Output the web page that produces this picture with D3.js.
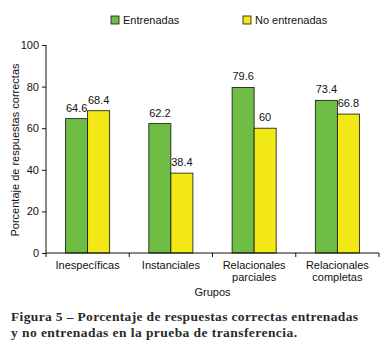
<!DOCTYPE html>
<html>
<head>
<meta charset="utf-8">
<script src="https://cdn.jsdelivr.net/npm/d3@7"></script>
<style>
  body { margin: 0; background: #fff; }
  svg { display: block; }
</style>
</head>
<body>
<div id="chart"></div>
<script>
// categories and series
var grupos = ["Inespecíficas", "Instanciales", "Relacionales parciales", "Relacionales completas"];
var grupoLines = [["Inespecíficas"], ["Instanciales"], ["Relacionales", "parciales"], ["Relacionales", "completas"]];
var series = ["Entrenadas", "No entrenadas"];
var entrenadas = [64.6, 62.2, 79.6, 73.4];
var noEntrenadas = [68.4, 38.4, 60, 66.8];
var yTicks = [0, 20, 40, 60, 80, 100];
var colors = ["#6fbd45", "#f1e815"];

var width = 386, height = 353;
var margin = { top: 45, right: 7, bottom: 100, left: 46 };

var svg = d3.select("#chart")
    .append("svg")
    .attr("width", width)
    .attr("height", height)
    .style("font-family", "'Liberation Sans', Arial, sans-serif");

var x = d3.scaleBand()
    .domain(grupos)
    .range([margin.left, width - margin.right])
    .padding(0);

var xSub = d3.scaleBand()
    .domain(series)
    .range([0, x.bandwidth()])
    .paddingInner(0)
    .paddingOuter(0.89);

var y = d3.scaleLinear()
    .domain([0, 100])
    .range([height - margin.bottom, margin.top]);

var rows = grupos.map(function (g, i) {
    return { grupo: g, values: [entrenadas[i], noEntrenadas[i]] };
});

// bars
var groups = svg.append("g").selectAll("g")
    .data(rows)
    .enter().append("g")
    .attr("transform", function (d) { return "translate(" + x(d.grupo) + ",0)"; });

groups.selectAll("rect")
    .data(function (d) { return d.values.map(function (v, j) { return { key: series[j], value: v, j: j }; }); })
    .enter().append("rect")
    .attr("x", function (d) { return xSub(d.key); })
    .attr("y", function (d) { return y(d.value); })
    .attr("width", xSub.bandwidth())
    .attr("height", function (d) { return y(0) - y(d.value); })
    .attr("fill", function (d) { return colors[d.j]; })
    .attr("stroke", "#111")
    .attr("stroke-width", 0.8);

groups.selectAll("text.val")
    .data(function (d) { return d.values.map(function (v, j) { return { key: series[j], value: v }; }); })
    .enter().append("text")
    .attr("class", "val")
    .attr("x", function (d) { return xSub(d.key) + xSub.bandwidth() / 2; })
    .attr("y", function (d) { return y(d.value) - 7; })
    .attr("text-anchor", "middle")
    .style("font-size", "11px")
    .attr("fill", "#111")
    .text(function (d) { return d.value; });

// y axis
var yAxis = d3.axisLeft(y).tickValues(yTicks).tickSize(4).tickPadding(3);
var gy = svg.append("g")
    .attr("transform", "translate(" + margin.left + ",0)")
    .call(yAxis);
gy.selectAll("text").style("font-size", "11px").attr("fill", "#111");
gy.select(".domain").attr("d", "M0," + y(100) + "V" + y(0));
gy.selectAll("line, path").attr("stroke", "#111");

// x axis: ticks at band boundaries
var bounds = grupos.map(function (g) { return x(g); }).concat([width - margin.right]);
var gx = svg.append("g");
gx.append("line")
    .attr("x1", margin.left).attr("x2", width - margin.right)
    .attr("y1", y(0)).attr("y2", y(0))
    .attr("stroke", "#111");
gx.selectAll("line.tick")
    .data(bounds)
    .enter().append("line")
    .attr("class", "tick")
    .attr("x1", function (d) { return d; }).attr("x2", function (d) { return d; })
    .attr("y1", y(0)).attr("y2", y(0) + 4)
    .attr("stroke", "#111");

gx.selectAll("text.cat")
    .data(grupoLines)
    .enter().append("text")
    .attr("class", "cat")
    .attr("x", function (d, i) { return x(grupos[i]) + x.bandwidth() / 2; })
    .attr("y", y(0) + 16)
    .attr("text-anchor", "middle")
    .style("font-size", "11px")
    .attr("fill", "#111")
    .selectAll("tspan")
    .data(function (d) { return d; })
    .enter().append("tspan")
    .attr("x", function () { return d3.select(this.parentNode).attr("x"); })
    .attr("dy", function (d, i) { return i === 0 ? 0 : 12; })
    .text(function (d) { return d; });

// axis titles
svg.append("text")
    .attr("x", (margin.left + width - margin.right) / 2)
    .attr("y", 296)
    .attr("text-anchor", "middle")
    .style("font-size", "11px")
    .attr("fill", "#111")
    .text("Grupos");

svg.append("text")
    .attr("transform", "translate(19," + 150 + ") rotate(-90)")
    .attr("text-anchor", "middle")
    .style("font-size", "11px")
    .attr("fill", "#111")
    .text("Porcentaje de respuestas correctas");

// legend
var legendX = [111, 243];
var legend = svg.append("g").selectAll("g")
    .data(series)
    .enter().append("g")
    .attr("transform", function (d, i) { return "translate(" + legendX[i] + ",16)"; });
legend.append("rect")
    .attr("width", 8).attr("height", 8)
    .attr("fill", function (d, i) { return colors[i]; })
    .attr("stroke", "#111")
    .attr("stroke-width", 0.8);
legend.append("text")
    .attr("x", 12)
    .attr("y", 8)
    .style("font-size", "11px")
    .attr("fill", "#111")
    .text(function (d) { return d; });

// caption
var caption = ["Figura 5 – Porcentaje de respuestas correctas entrenadas",
               "y no entrenadas en la prueba de transferencia."];
var captionWidth = [347, 286];
svg.append("g").selectAll("text")
    .data(caption)
    .enter().append("text")
    .attr("x", 11)
    .attr("y", function (d, i) { return 321 + i * 16; })
    .attr("textLength", function (d, i) { return captionWidth[i]; })
    .attr("lengthAdjust", "spacing")
    .style("font-family", "'Liberation Serif', serif")
    .style("font-weight", "bold")
    .style("font-size", "13.5px")
    .attr("fill", "#2a2a2a")
    .text(function (d) { return d; });
</script>
</body>
</html>
